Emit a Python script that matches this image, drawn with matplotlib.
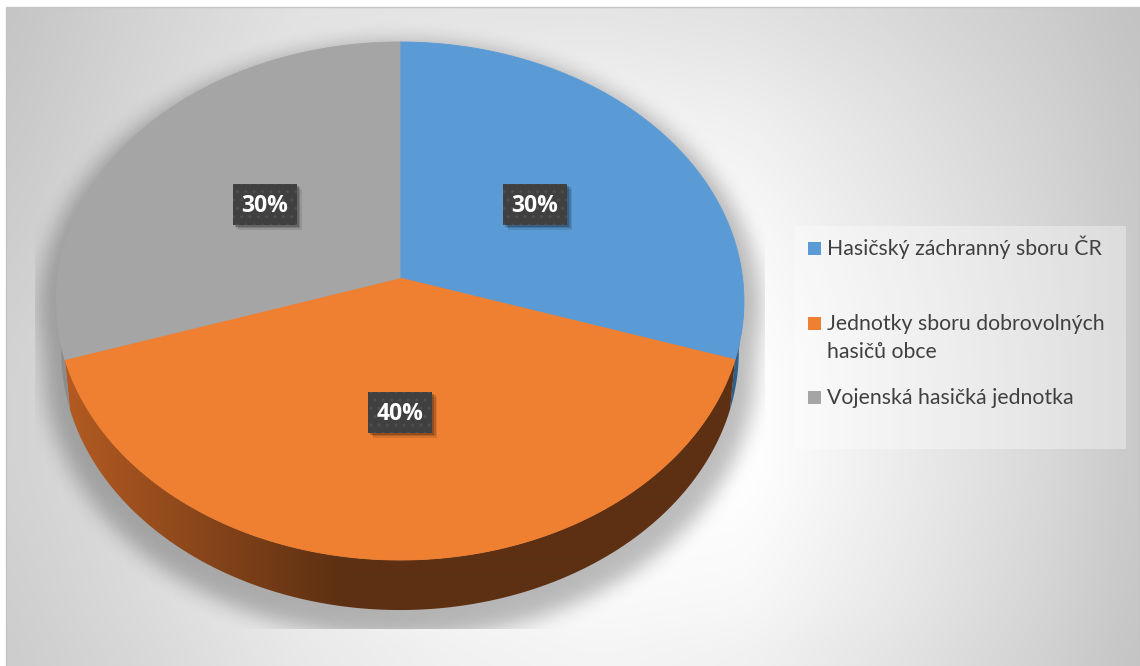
import numpy as np
import matplotlib
matplotlib.use('Agg')
import matplotlib.pyplot as plt
from matplotlib.patches import Polygon, Rectangle
from matplotlib.path import Path

plt.rcParams['font.family'] = ['Lato', 'DejaVu Sans']

# data
categories = ['Hasičský záchranný sboru ČR',
              'Jednotky sboru dobrovolných\nhasičů obce',
              'Vojenská hasičká jednotka']
values = [30, 40, 30]
top_colors = ['#5b9bd5', '#ef7f31', '#a5a5a5']
side_left = ['#2f5f8d', '#b45b22', '#8c8c8c']
side_right = ['#2f5f8d', '#5d3013', '#8c8c8c']

# background grey levels (chart area gradient)
bg_x = [6, 150, 300, 450, 600, 750, 900, 1050, 1140]
bg_y = [7, 120, 240, 360, 480, 600, 666]
bg_v = np.array([
    [196, 212, 226, 228, 228, 225, 216, 204, 194],
    [200, 216, 232, 240, 244, 240, 226, 210, 198],
    [205, 220, 238, 248, 252, 250, 232, 214, 200],
    [210, 222, 240, 250, 255, 255, 236, 216, 200],
    [210, 222, 240, 250, 255, 255, 236, 216, 200],
    [206, 220, 236, 246, 250, 248, 232, 212, 198],
    [204, 216, 232, 240, 244, 240, 226, 208, 195]])

W, H = 1140, 666
CX, CY = 400, 278      # pie apex on screen
RX, RY = 342.6, 257    # radii
K = 0.0888             # perspective strength
DEPTH = 50             # thickness of the pie
SHRINK = 0.985         # bottom rim is a bit narrower (perspective)


def proj(r, th):
    u = r * np.cos(th)
    v = r * np.sin(th)
    d = 1 + K * v
    return CX + RX * u / d, CY - RY * v / d


def proj_bottom(th):
    x, y = proj(1, th)
    return CX + (x - CX) * SHRINK, y + DEPTH


def box_blur(a, r, axis):
    pad = [(0, 0), (0, 0)]
    pad[axis] = (r + 1, r)
    p = np.pad(a, pad, mode='edge')
    c = np.cumsum(p, axis=axis)
    if axis == 0:
        return (c[2 * r + 1:] - c[:-2 * r - 1]) / (2 * r + 1)
    return (c[:, 2 * r + 1:] - c[:, :-2 * r - 1]) / (2 * r + 1)


fig = plt.figure(figsize=(11.4, 6.66), dpi=100)
fig.patch.set_facecolor('white')
ax = fig.add_axes([0, 0, 1, 1])
ax.set_xlim(0, W)
ax.set_ylim(H, 0)
ax.axis('off')

# background gradient
xx = np.arange(W) + 0.5
yy = np.arange(H) + 0.5
rows = np.array([np.interp(xx, bg_x, r) for r in bg_v])
bg = np.array([np.interp(yy, bg_y, rows[:, j]) for j in range(W)]).T / 255
for axis in (0, 1):
    for _ in range(2):
        bg = box_blur(bg, 20, axis)
bg_rgb = np.dstack([bg, bg, bg])
bg_rgb[:7, :] = 1
bg_rgb[:, :6] = 1
ax.imshow(bg_rgb, extent=(0, W, H, 0), interpolation='bilinear', zorder=0)
ax.add_patch(Rectangle((5.5, 6.5), 1133.5, 700, fill=False, edgecolor='#c4c4c4', lw=1, zorder=1))

# angles of slices (clockwise from 12 o'clock)
total = float(sum(values))
cum = np.concatenate([[0], np.cumsum(values)]) / total
starts = np.pi / 2 - 2 * np.pi * cum[:-1]
ends = np.pi / 2 - 2 * np.pi * cum[1:]
th_r = -np.arcsin(K)
th_l = -np.pi + np.arcsin(K)

# shadow of the pie
back = np.linspace(th_r, th_l + 2 * np.pi, 200)
front = np.linspace(th_l + 2 * np.pi, th_r + 2 * np.pi, 200)
bx, by = proj(1, back)
fx, fy = proj_bottom(front)
sil_x = np.concatenate([bx, fx])
sil_y = np.concatenate([by, fy])
sx = 400 + (sil_x - 400) * 1.05
sy = 330 + (sil_y - 330) * 1.05 + 14
gx, gy = np.meshgrid(xx, yy)
mask = Path(np.column_stack([sx, sy])).contains_points(
    np.column_stack([gx.ravel(), gy.ravel()])).reshape(H, W).astype(float)
for axis in (0, 1):
    for _ in range(3):
        mask = box_blur(mask, 9, axis)
sh = np.zeros((H, W, 4))
sh[..., 3] = mask * 0.26
sh[:, :35, 3] = 0
sh[:, 765:, 3] = 0
sh[629:, :, 3] = 0
sh[:15, :, 3] = 0
ax.imshow(sh, extent=(0, W, H, 0), interpolation='bilinear', zorder=2)

# pie sides
for i in range(len(values)):
    lo = max(ends[i], th_l)
    hi = min(starts[i], th_r)
    if lo >= hi:
        continue
    t = np.linspace(lo, hi, 120)
    px, py = proj(1, t)
    qx, qy = proj_bottom(t)
    verts = np.column_stack([np.concatenate([px, qx[::-1]]),
                             np.concatenate([py, qy[::-1]])])
    poly = Polygon(verts, closed=True, facecolor='none', edgecolor='none', zorder=3)
    ax.add_patch(poly)
    c0 = np.array(matplotlib.colors.to_rgb(side_left[i]))
    c1 = np.array(matplotlib.colors.to_rgb(side_right[i]))
    f = np.clip((xx - 65) / (340 - 65), 0, 1)[None, :, None]
    grad = c0 * (1 - f) + c1 * f
    grad = np.repeat(grad, 2, axis=0)
    im = ax.imshow(grad, extent=(0, W, H, 0), aspect='auto', interpolation='bilinear', zorder=3)
    im.set_clip_path(poly)

# pie top faces
for i in range(len(values)):
    t = np.linspace(starts[i], ends[i], 200)
    px, py = proj(1, t)
    verts = np.column_stack([np.concatenate([[CX], px]), np.concatenate([[CY], py])])
    ax.add_patch(Polygon(verts, closed=True, facecolor=top_colors[i],
                         edgecolor=top_colors[i], lw=0.6, zorder=4))

# data labels
for i in range(len(values)):
    mid = (starts[i] + ends[i]) / 2
    lx, ly = proj(0.5, mid)
    bw, bh = 64, 41
    for off, a in ((5, 0.10), (3.5, 0.15), (2, 0.2)):
        ax.add_patch(Rectangle((lx - bw / 2 + off, ly - bh / 2 + off), bw, bh,
                               facecolor='black', alpha=a, lw=0, zorder=5))
    ax.add_patch(Rectangle((lx - bw / 2, ly - bh / 2), bw, bh, facecolor='#404040',
                           edgecolor='#4e4e4e', lw=0, hatch='..', zorder=6))
    ax.text(lx, ly + 1.5, f'{values[i] / total:.0%}', color='white', fontsize=16.5,
            fontweight='bold', family=['Open Sans', 'DejaVu Sans'],
            ha='center', va='center', zorder=7)

# legend
ax.add_patch(Rectangle((795, 226), 331, 223, facecolor='white', alpha=0.35, lw=0, zorder=5))
marker_y = [248.5, 323.5, 397.5]
for i in range(len(categories)):
    ax.add_patch(Rectangle((808, marker_y[i] - 6.5), 13, 13, facecolor=top_colors[i], lw=0, zorder=6))
    for k, line in enumerate(categories[i].split('\n')):
        ax.text(827, marker_y[i] + 6.5 + 28 * k, line, color='#404040', fontsize=15.3,
                ha='left', va='baseline', zorder=6)

fig.savefig('out.png', dpi=100, facecolor='white')
